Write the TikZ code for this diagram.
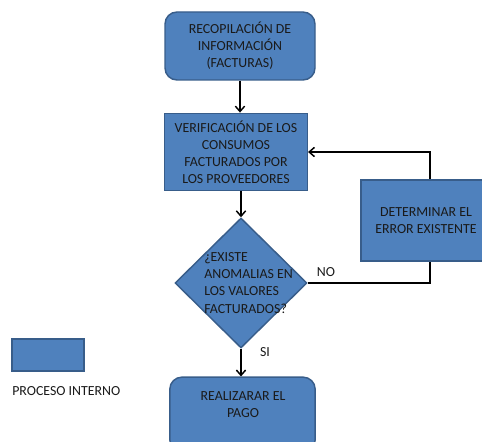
\documentclass[tikz,border=0pt]{standalone}
\usepackage{fontspec}
\setmainfont{Carlito}
\usepackage{tikz}
\usetikzlibrary{arrows.meta,positioning,calc,shapes.geometric}
\definecolor{boxfill}{HTML}{4F81BD}
\definecolor{boxline}{HTML}{385D8A}
\definecolor{txtcol}{HTML}{1A1A1A}
\tikzset{
  proc/.style ={draw=boxline,fill=boxfill,line width=1.1pt,inner sep=0pt},
  rproc/.style={proc,rounded corners=9pt},
  dec/.style  ={proc,diamond,inner sep=0pt},
  txt/.style  ={text=txtcol,font=\fontsize{10.4}{12.8}\selectfont,inner sep=0pt,align=center},
  flw/.style  ={draw,line width=1.1pt,-{Straight Barb[length=4pt,width=7pt,line width=1.1pt]}},
  lnk/.style  ={draw,line width=1.1pt},
}
\begin{document}
\begin{tikzpicture}[x=0.75pt,y=-0.75pt]
  \useasboundingbox (0,0) rectangle (482,442);
  \clip (0,0) rectangle (482,442);
  % boxes
  \node[rproc,minimum width=112.5pt,minimum height=51pt] (recop) at (240,46) {};
  \node[txt] (recopt) at (240,46) {RECOPILACIÓN DE\\INFORMACIÓN\\(FACTURAS)};
  \node[proc,minimum width=107pt,minimum height=58pt] (verif) at (236,152) {};
  \node[txt] (verift) at (236,152) {VERIFICACIÓN DE LOS\\CONSUMOS\\FACTURADOS POR\\LOS PROVEEDORES};
  \node[dec,minimum width=99pt,minimum height=97.5pt] (anom) at (241,283) {};
  \node[txt,align=left,anchor=west] (anomt) at (204,283) {¿EXISTE\\ANOMALIAS EN\\LOS VALORES\\FACTURADOS?};
  \node[proc,minimum width=120pt,minimum height=61pt] (error) at (441,220.5) {};
  \node[txt] (errort) at (426,220.5) {DETERMINAR EL\\ERROR EXISTENTE};
  \coordinate (errin) at ([xshift=-8.25pt]error.south);
  \coordinate (errout) at ([xshift=-8.25pt]error.north);
  \node[rproc,minimum width=109pt,minimum height=56pt] (pago) at (242.5,414.5) {};
  \node[txt] (pagot) at (243,405) {REALIZARAR EL\\PAGO};
  % legend
  \node[proc,minimum width=54pt,minimum height=24pt] (leg) at (48,355) {};
  \node[txt,anchor=west] (legt) at (12,391) {PROCESO INTERNO};
  % connectors
  \draw[flw] (recop.south) -- (recop.south |- verif.north);
  \draw[flw] (anom.north |- verif.south) -- (anom.north);
  \draw[lnk] (anom.east) -- (anom.east -| errin) -- (errin);
  \draw[flw] (errout) -- (errout |- verif.east) -- (verif.east);
  \draw[flw] (anom.south) -- (anom.south |- pago.north);
  \node[txt] (no) at (326,272) {NO};
  \node[txt] (si) at (265,352) {SI};
\end{tikzpicture}
\end{document}
